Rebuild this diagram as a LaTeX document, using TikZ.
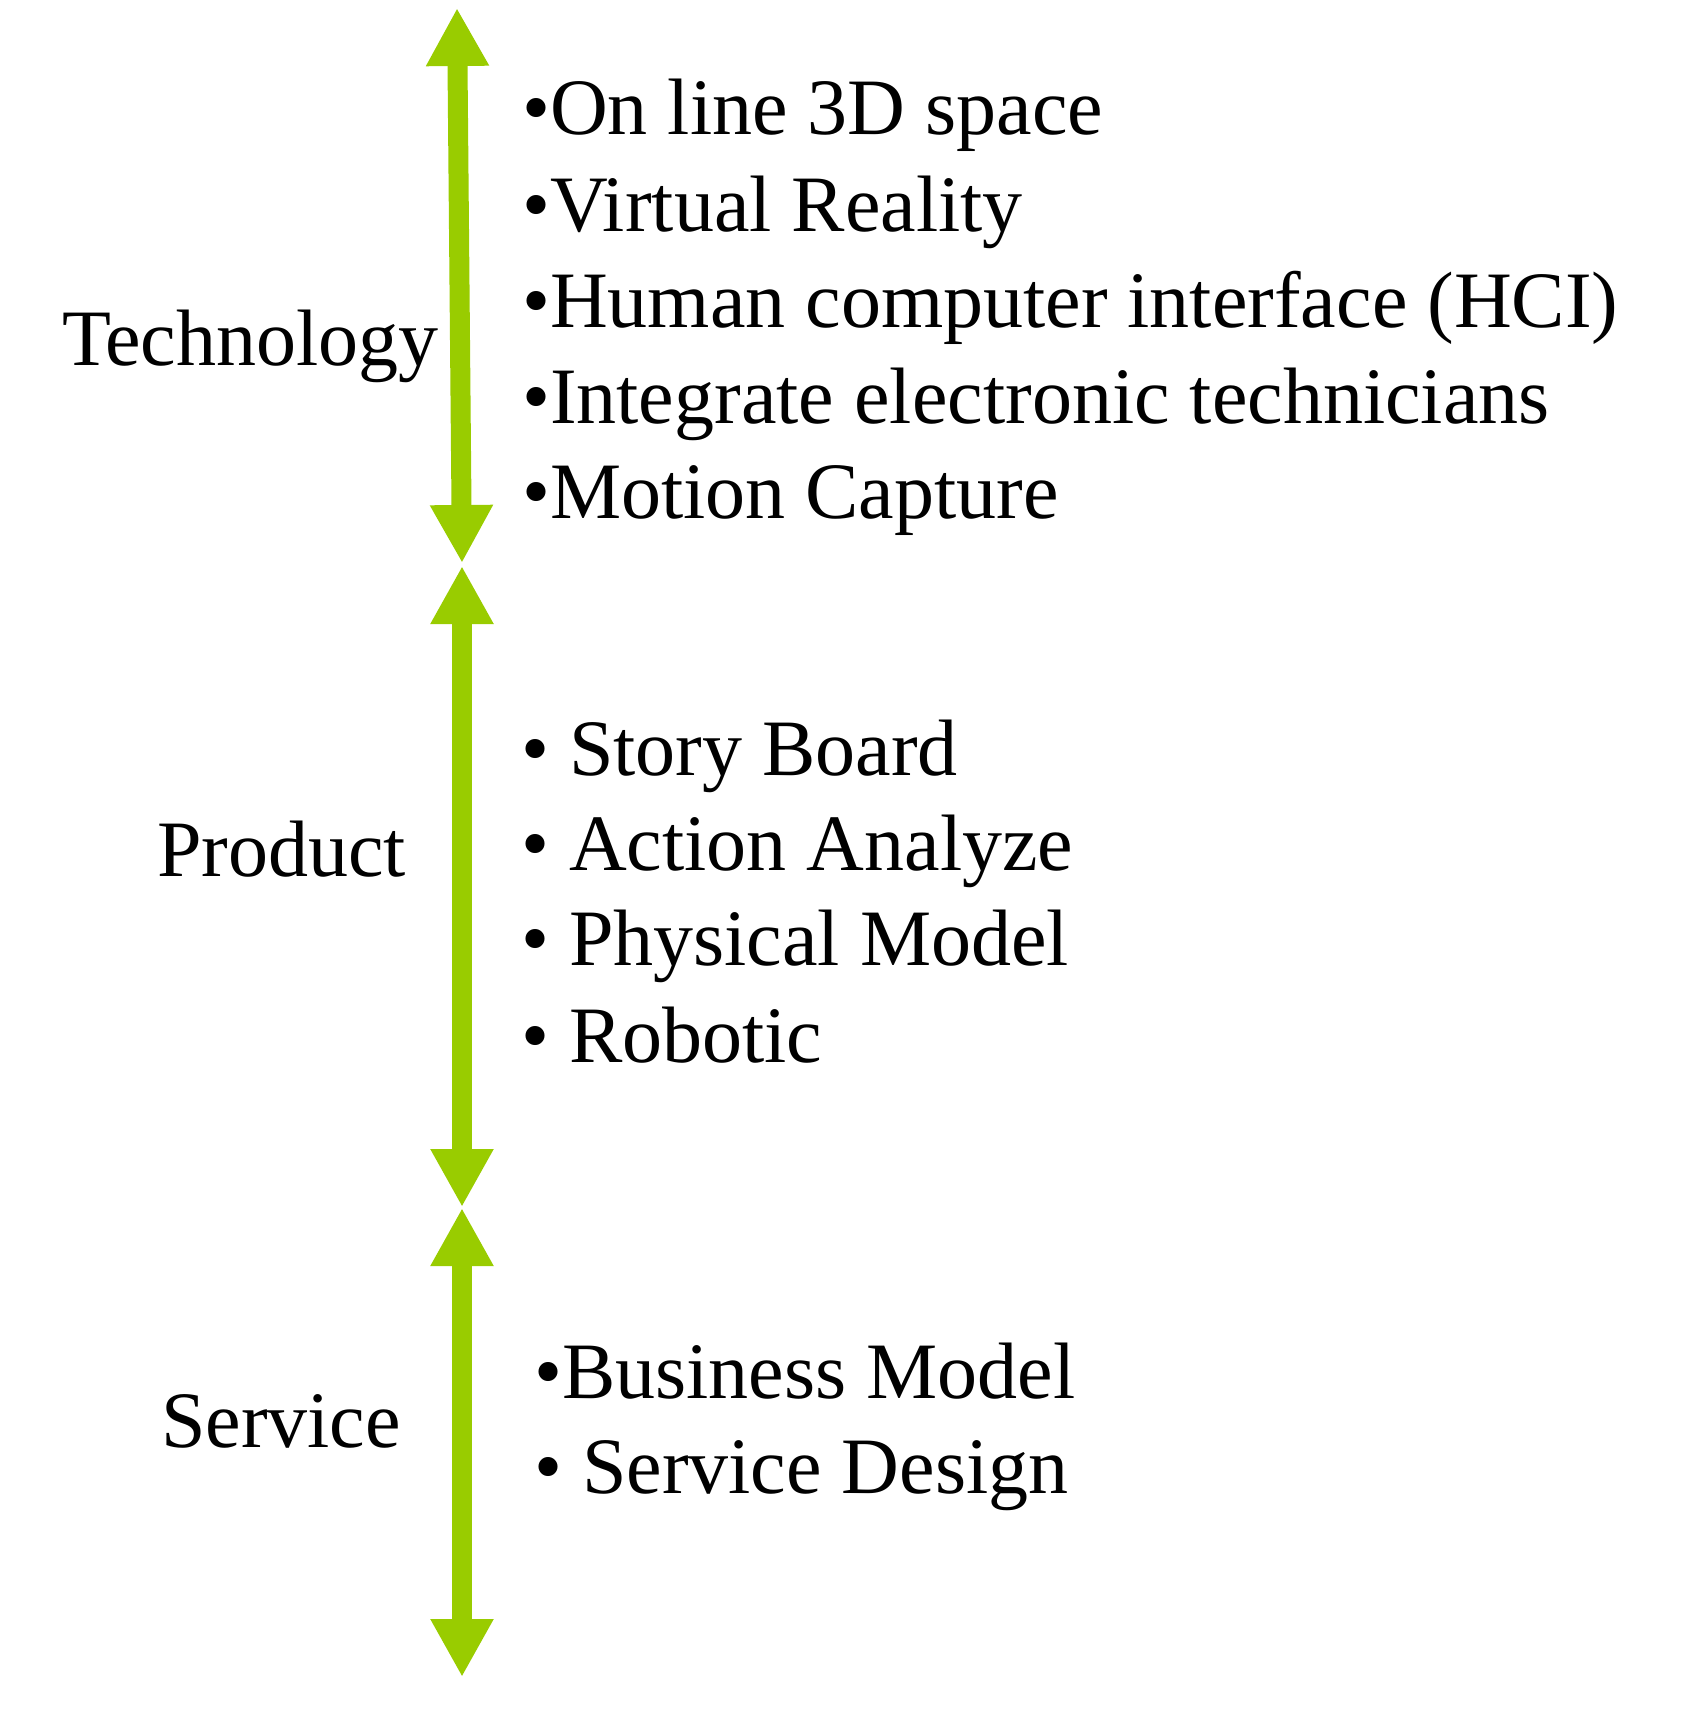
\documentclass[tikz,border=0pt]{standalone}
\usepackage{fontspec}
\setmainfont{Liberation Serif}
\usetikzlibrary{arrows.meta}
\definecolor{axisgreen}{RGB}{153,204,0}
\tikzset{
  txt/.style={anchor=base west, inner sep=0pt, outer sep=0pt, font=\fontsize{80}{96}\selectfont},
  axis/.style={draw=axisgreen, line width=20pt, {Triangle[length=58pt,width=59pt]}-{Triangle[length=58pt,width=59pt]}}
}
\begin{document}
\begin{tikzpicture}[x=1pt,y=-1pt]
\useasboundingbox (0,0) rectangle (1680,1712);
% axis end points
\coordinate (t1) at (457,8);
\coordinate (t2) at (462,563);
\coordinate (p1) at (462,566);
\coordinate (p2) at (462,1207);
\coordinate (s1) at (462,1208);
\coordinate (s2) at (462,1677);
\draw[axis] (t1) -- (t2);
\draw[axis] (p1) -- (p2);
\draw[axis] (s1) -- (s2);
% labels
\node[txt] (tech) at (62,365) {Technology};
\node[txt] (prod) at (157,876) {Product};
\node[txt] (serv) at (161,1447) {Service};
% technology items
\node[txt] (ti1) at (522,135) {•On line 3D space};
\node[txt] (ti2) at (522,232) {•Virtual Reality};
\node[txt] (ti3) at (522,327) {•Human computer interface (HCI)};
\node[txt] (ti4) at (522,423) {•Integrate electronic technicians};
\node[txt] (ti5) at (522,518) {•Motion Capture};
% product items
\node[txt] (pi1) at (521,775) {• Story Board};
\node[txt] (pi2) at (521,870) {• Action Analyze};
\node[txt] (pi3) at (521,965) {• Physical Model};
\node[txt] (pi4) at (521,1062) {• Robotic};
% service items
\node[txt] (si1) at (534,1398) {•Business Model};
\node[txt] (si2) at (534,1493) {• Service Design};
\end{tikzpicture}
\end{document}
